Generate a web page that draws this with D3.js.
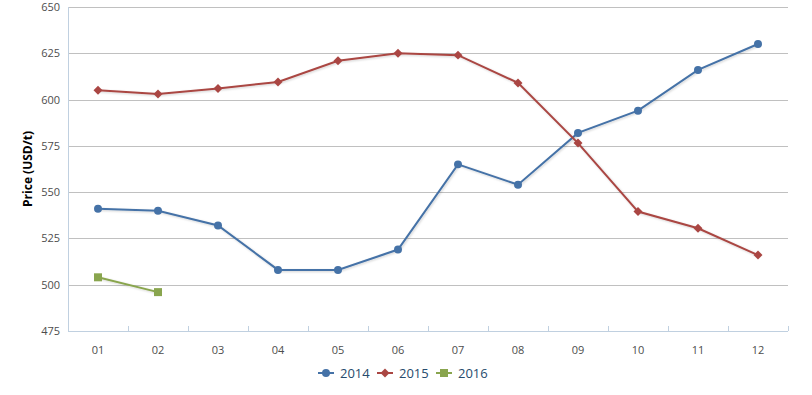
<!DOCTYPE html>
<html><head><meta charset="utf-8">
<script src="https://cdn.jsdelivr.net/npm/d3@7"></script>
<style>
body{margin:0;background:#fff;}
text{font-family:"Open Sans","DejaVu Sans",sans-serif;}
</style></head>
<body><svg id="c" width="812" height="395"></svg>
<script>
const months = ["01","02","03","04","05","06","07","08","09","10","11","12"];
const s2014 = [541,540,532,508,508,519,565,554,582,594,616,630];
const s2015 = [605,603,606,609.5,621,625,624,609,576.5,539.5,530.5,516];
const s2016 = [504,496];
const yTicks = [475,500,525,550,575,600,625,650];
const seriesNames = ["2014","2015","2016"];
const colors = ["#4572A7","#AA4643","#89A54E"];

const diamond = { draw(ctx, size) { const r = Math.sqrt(size / 2); ctx.moveTo(0, -r); ctx.lineTo(r, 0); ctx.lineTo(0, r); ctx.lineTo(-r, 0); ctx.closePath(); } };
const symbols = [d3.symbolCircle, diamond, d3.symbolSquare];
const sizes = [50, 40, 64];

const svg = d3.select("#c");
const L = 68, R = 788, T = 7, B = 331;
const x = d3.scaleBand().domain(months).range([L, R]);
const y = d3.scaleLinear().domain([475, 650]).range([B, T]);

const defs = svg.append("defs");
const f = defs.append("filter").attr("id","sh").attr("x","-10%").attr("y","-10%").attr("width","120%").attr("height","130%");
f.append("feDropShadow").attr("dx",1).attr("dy",1).attr("stdDeviation",1).attr("flood-color","#000").attr("flood-opacity",0.18);

// grid
svg.append("g").selectAll("line").data(yTicks).join("line")
  .attr("x1", L).attr("x2", R).attr("y1", d => Math.round(y(d))+0.5).attr("y2", d => Math.round(y(d))+0.5)
  .attr("stroke", "#C0C0C0").attr("stroke-width", 1);

// y axis line
svg.append("line").attr("x1", L+0.5).attr("x2", L+0.5).attr("y1", T).attr("y2", B)
  .attr("stroke", "#C0D0E0");

// y labels
svg.append("g").selectAll("text").data(yTicks).join("text")
  .attr("x", L - 8).attr("y", d => y(d) + 4).attr("text-anchor", "end")
  .attr("font-size", 11).attr("fill", "#4d4d4d").text(d => d);

// x axis
const xAxis = d3.axisBottom(x).tickSize(0).tickPadding(0);
const gx = svg.append("g").attr("transform", `translate(0,${B+0.5})`).call(xAxis);
gx.select(".domain").attr("stroke", "#C0D0E0").attr("d", `M${L},0H${R}`);
gx.selectAll(".tick text").attr("font-size", 11).attr("fill", "#4d4d4d").attr("y", 15)
  .attr("font-family", '"Open Sans","DejaVu Sans",sans-serif');
const bounds = months.map(m => x(m)).concat([R]);
svg.append("g").selectAll("line").data(bounds).join("line")
  .attr("x1", d => Math.round(d)+0.5).attr("x2", d => Math.round(d)+0.5)
  .attr("y1", B - 5).attr("y2", B).attr("stroke", "#C0D0E0");

// y title
svg.append("text").attr("transform", `translate(32,169) rotate(-90)`)
  .attr("text-anchor", "middle").attr("font-size", 12).attr("font-weight", "bold")
  .attr("fill", "#000").text("Price (USD/t)");

const cx = m => x(m) + x.bandwidth()/2;
const data = [s2014, s2015, s2016];
const line = d3.line().x(d => cx(d.m)).y(d => y(d.v));
data.forEach((vals, i) => {
  const pts = vals.map((v, j) => ({m: months[j], v}));
  const g = svg.append("g");
  g.append("path").datum(pts).attr("d", line).attr("fill", "none")
    .attr("stroke", colors[i]).attr("stroke-width", 2).attr("filter", "url(#sh)");
  g.selectAll(".pt").data(pts).join("path")
    .attr("transform", d => `translate(${cx(d.m)},${y(d.v)})`)
    .attr("d", d3.symbol().type(symbols[i]).size(sizes[i])).attr("fill", colors[i]);
});

// legend
const lg = svg.append("g");
const lx = [318, 377, 436];
seriesNames.forEach((n, i) => {
  const g = lg.append("g").attr("transform", `translate(${lx[i]},373)`);
  g.append("line").attr("x1", 0).attr("x2", 16).attr("y1", 0).attr("y2", 0)
    .attr("stroke", colors[i]).attr("stroke-width", 2);
  g.append("path").attr("transform", "translate(8,0)")
    .attr("d", d3.symbol().type(symbols[i]).size(sizes[i])).attr("fill", colors[i]);
  g.append("text").attr("x", 22).attr("y", 5).attr("font-size", 13).attr("fill", "#274b6d").text(n);
});
</script></body></html>
